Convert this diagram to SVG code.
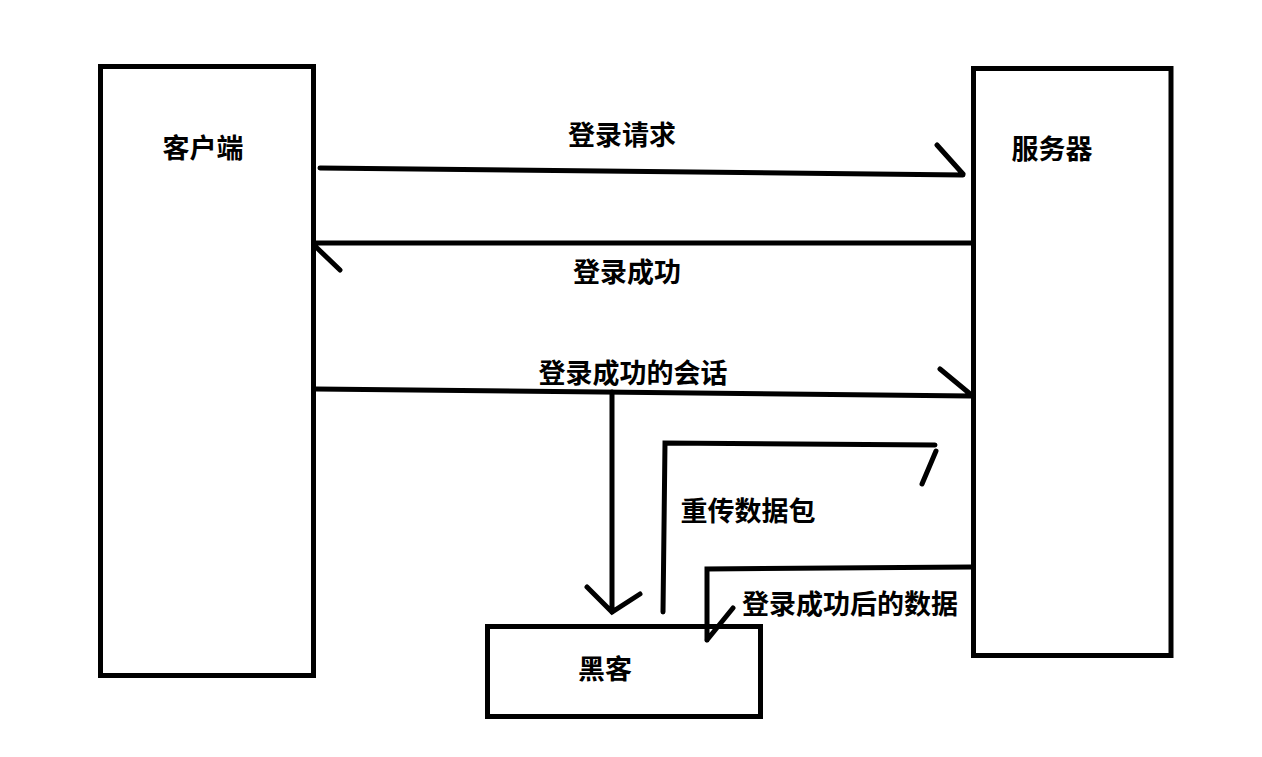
<svg xmlns="http://www.w3.org/2000/svg" width="1262" height="757" viewBox="0 0 1262 757">
<style>
.box{fill:#fff;stroke:#000;stroke-width:5}
.ln{fill:none;stroke:#000;stroke-width:5;stroke-linecap:round;stroke-linejoin:miter}
.t{font-family:"Noto Sans CJK SC","Microsoft YaHei",sans-serif;font-weight:bold;font-size:27px;fill:#000;text-anchor:middle;dominant-baseline:central}
</style>
<rect width="1262" height="757" fill="#fff"/>
<g id="client"><rect class="box" x="100.5" y="66.5" width="213" height="609"/><text class="t" x="203" y="146">客户端</text></g>
<g id="server"><rect class="box" x="973.5" y="68.5" width="197.5" height="587"/><text class="t" x="1052" y="147">服务器</text></g>
<g id="hacker"><rect class="box" x="487.5" y="626.5" width="273" height="90"/><text class="t" x="605" y="667">黑客</text></g>
<g id="connectors">
<path class="ln" d="M320,168 L963,175 M937,145 L963,174"/>
<path class="ln" d="M971,243 L316,243 M316,247 L340,270"/>
<path class="ln" d="M316,389 L971,396 M940,369 L969,393"/>
<path class="ln" d="M612,392 L612,612 M587,587 L612,612 L640,594"/>
<path class="ln" d="M663,612 L665,443 L935,445 M936,451 L922,484"/>
<path class="ln" d="M971,567 L707,569 L707,640 M707,640 L733,608"/>
</g>
<g id="labels">
<text class="t" x="622" y="133">登录请求</text>
<text class="t" x="627" y="270">登录成功</text>
<text class="t" x="633" y="371">登录成功的会话</text>
<text class="t" x="748" y="509">重传数据包</text>
<text class="t" x="850" y="602">登录成功后的数据</text>
</g>
</svg>
